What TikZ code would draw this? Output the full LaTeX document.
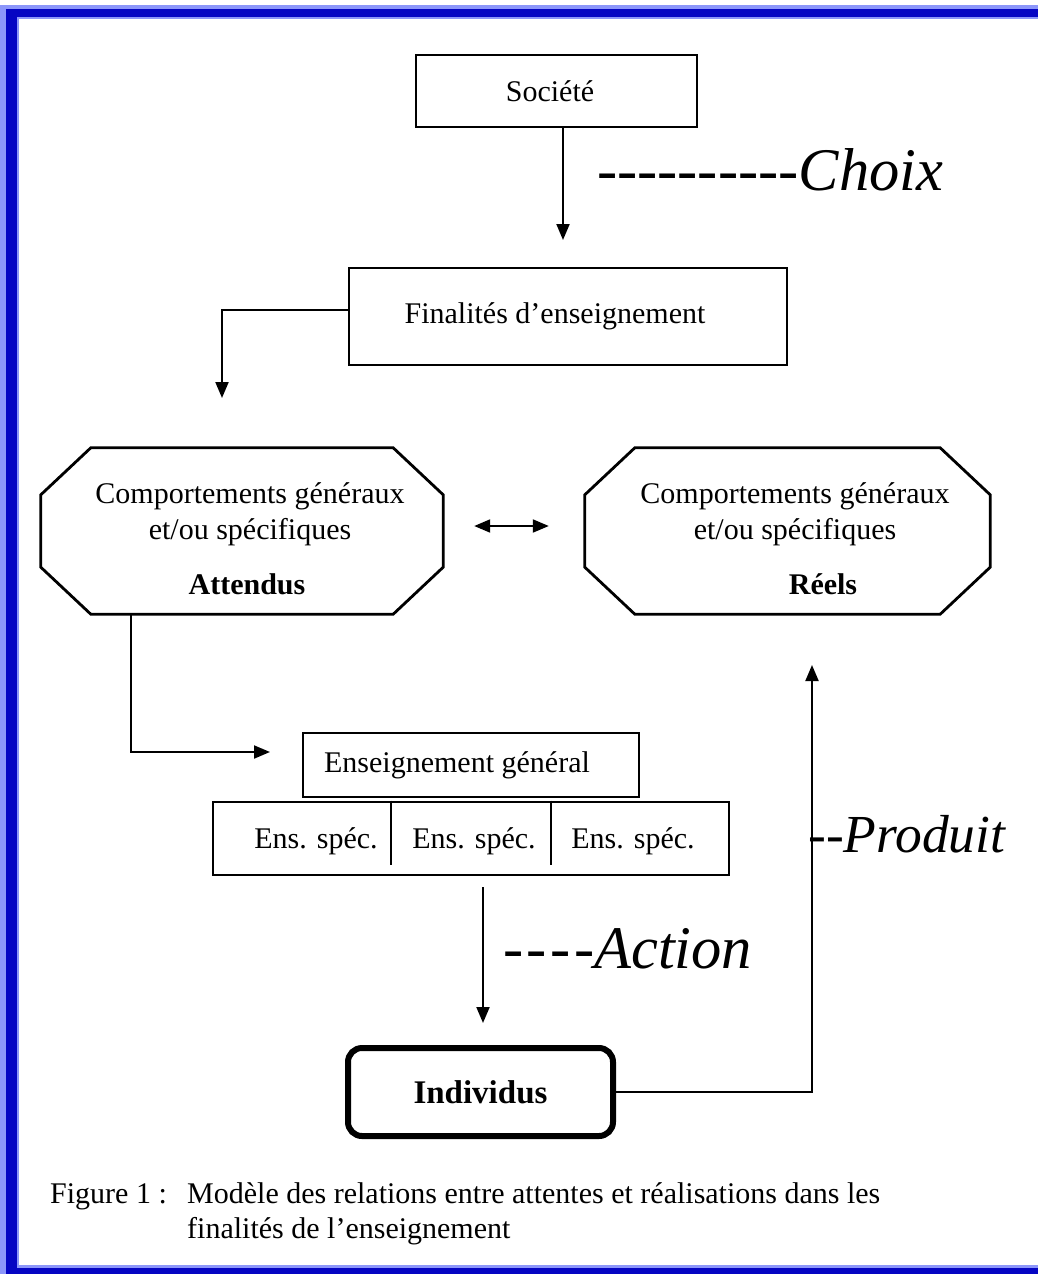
\documentclass[tikz,border=0pt]{standalone}
\usepackage{fontspec}
\setmainfont{Liberation Serif}
\usetikzlibrary{arrows.meta}
\definecolor{framedark}{RGB}{5,5,195}
\definecolor{framelight}{RGB}{140,150,250}
\newcommand\dsh{-\kern0pt}
\newcommand\wdsh{-\kern3.5pt}
\newcommand\padr[1]{\rule{#1}{0pt}}
\newcommand\drawoct[1]{\draw[boxline] ([xshift=50pt]#1.north west) -- ([xshift=-50pt]#1.north east) -- ([yshift=-47pt]#1.north east) -- ([yshift=47pt]#1.south east) -- ([xshift=-50pt]#1.south east) -- ([xshift=50pt]#1.south west) -- ([yshift=47pt]#1.south west) -- ([yshift=-47pt]#1.north west) -- cycle;}
\begin{document}
\begin{tikzpicture}[x=1pt,y=-1pt,
  every node/.style={font=\fontsize{30}{36}\selectfont, inner sep=0pt},
  boxline/.style={draw=black, line width=2.8pt},
  rbox/.style={boxline, rectangle},
  boldtext/.style={font=\fontsize{30}{36}\selectfont\bfseries},
  arr/.style={line width=2pt, -{Triangle[length=16pt,width=13pt]}},
  arrboth/.style={line width=2pt, {Triangle[length=16pt,width=13pt]}-{Triangle[length=16pt,width=13pt]}},
  lab/.style={font=\fontsize{60.5}{62}\selectfont\itshape, anchor=base west},
]
% frame
\fill[white] (0,0) rectangle (1038,1274);
\fill[framelight] (0,5) rectangle (1038,1274);
\fill[framedark] (6,9) rectangle (1038,1274);
\fill[framelight] (17,17) rectangle (1038,1268);
\fill[white] (19,19) rectangle (1038,1265);
\useasboundingbox (0,0) rectangle (1038,1274);

% boxes
\node[rbox, minimum width=281pt, minimum height=72pt] (soc) at (556.5,91) {Société\padr{13pt}};
\node[rbox, minimum width=438pt, minimum height=97pt] (fin) at (568,316.5) {Finalités d’enseignement\padr{26pt}};

\node[minimum width=402pt, minimum height=166pt] (attL) at (242,531) {};
\node[minimum width=405pt, minimum height=166pt] (reel) at (787.5,531) {};
\drawoct{attL}
\drawoct{reel}
\node[align=center] (attLt) at (250,514) {Comportements généraux\\et/ou spécifiques};
\node[boldtext, anchor=base] (attLb) at (247,594) {Attendus};
\node[align=center] (reelt) at (795,514) {Comportements généraux\\et/ou spécifiques};
\node[boldtext, anchor=base] (reelb) at (823,594) {Réels};

\node[rbox, minimum width=336pt, minimum height=64pt] (gen) at (471,765) {Enseignement général\padr{28pt}};
\node[rbox, minimum width=516pt, minimum height=73pt] (row) at (471,838.5) {};
\draw[boxline] ([xshift=-80pt]row.north) -- ++(0,64);
\draw[boxline] ([xshift=80pt]row.north) -- ++(0,64);
\node[anchor=base] (sp1) at (316,848) {Ens. spéc.};
\node[anchor=base] (sp2) at (474,848) {Ens. spéc.};
\node[anchor=base] (sp3) at (633,848) {Ens. spéc.};

\node[draw=black, rounded corners=14pt, line width=6pt, minimum width=265pt, minimum height=88pt, font=\fontsize{33}{36}\selectfont\bfseries] (ind) at (480.5,1092) {Individus};

% connectors
\coordinate (c1) at (563,240);
\draw[arr] ([xshift=6.5pt]soc.south) -- (c1);
\coordinate (c2) at (222,398);
\draw[arr] ([yshift=6.5pt]fin.west) -| (c2);
\draw[arrboth] ([xshift=31pt,yshift=5pt]attL.east) -- ([xshift=-36pt,yshift=5pt]reel.west);
\coordinate (c4) at (270,752);
\draw[arr] ([xshift=-111pt]attL.south) |- (c4);
\coordinate (c5) at (483,1023);
\draw[arr] ([xshift=12pt,yshift=-11pt]row.south) -- (c5);
\coordinate (c6) at (812,665);
\draw[arr] (ind.east) -| (c6);

% labels
\node[lab] (choix) at (597,190) {\dsh\dsh\dsh\dsh\dsh\dsh\dsh\dsh\dsh\dsh Choix};
\node[lab] (action) at (503,968) {\wdsh\wdsh\wdsh\dsh Action};
\node[lab, font=\fontsize{53.5}{56}\selectfont\itshape] (produit) at (808,852) {\dsh\dsh Produit};

% caption
\node[anchor=base west] (cap1) at (50,1203) {Figure 1 :};
\node[anchor=base west] (cap2) at (187,1203) {Modèle des relations entre attentes et réalisations dans les};
\node[anchor=base west] (cap3) at (187,1238) {finalités de l’enseignement};
\end{tikzpicture}
\end{document}
